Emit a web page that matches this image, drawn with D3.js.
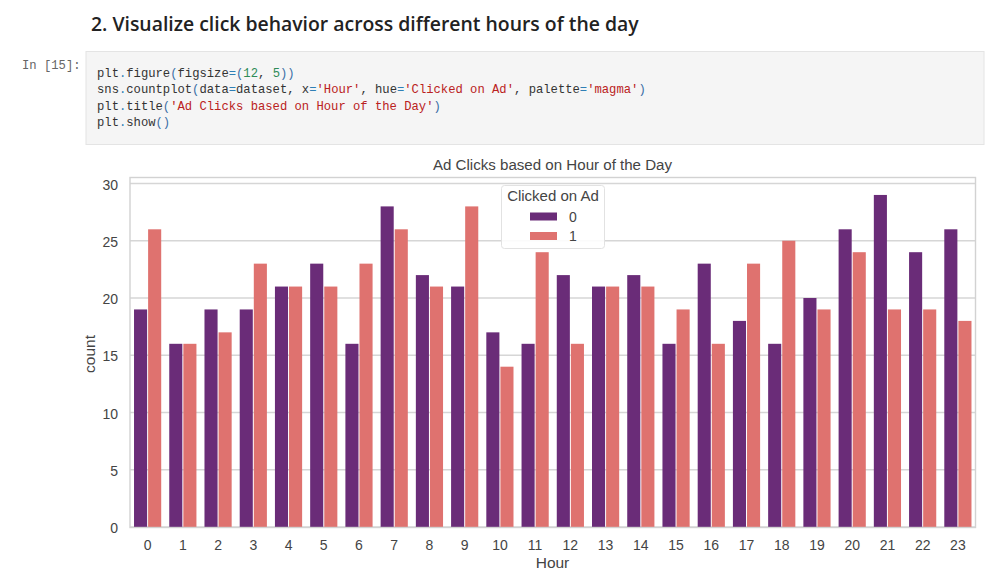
<!DOCTYPE html>
<html>
<head>
<meta charset="utf-8">
<script src="https://cdnjs.cloudflare.com/ajax/libs/d3/7.8.5/d3.min.js"></script>
<style>
    html, body { margin: 0; padding: 0; background: #fff; }
    svg { display: block; }
    .chart text { font-family: "Liberation Sans", Arial, sans-serif; fill: #444; }
    .code text { font-family: "Liberation Mono", monospace; font-size: 12.2px; }
</style>
</head>
<body>
<div id="chart"></div>
<script>
const hours = d3.range(0, 24).map(String);
const notClicked = [19, 16, 19, 19, 21, 23, 16, 28, 22, 21, 17, 16, 22, 21, 22, 16, 23, 18, 16, 20, 26, 29, 24, 26];
const clicked = [26, 16, 17, 23, 21, 21, 23, 26, 21, 28, 14, 24, 16, 21, 21, 19, 16, 23, 25, 19, 24, 19, 19, 18];
const hueLabels = ['0', '1'];
const yTicks = [0, 5, 10, 15, 20, 25, 30];
const hueColors = ['#6a2c78', '#df726f'];

const codeColors = { n: '#333', o: '#2f7fb5', s: '#ba2121', v: '#2e8b57', p: '#3a6ea5' };
const codeLines = [
    [['plt', 'n'], ['.', 'o'], ['figure', 'n'], ['(', 'p'], ['figsize', 'n'], ['=', 'o'], ['(', 'p'], ['12', 'v'], [', ', 'n'], ['5', 'v'], ['))', 'p']],
    [['sns', 'n'], ['.', 'o'], ['countplot', 'n'], ['(', 'p'], ['data', 'n'], ['=', 'o'], ['dataset, x', 'n'], ['=', 'o'], ["'Hour'", 's'], [', hue', 'n'], ['=', 'o'], ["'Clicked on Ad'", 's'], [', palette', 'n'], ['=', 'o'], ["'magma'", 's'], [')', 'p']],
    [['plt', 'n'], ['.', 'o'], ['title', 'n'], ['(', 'p'], ["'Ad Clicks based on Hour of the Day'", 's'], [')', 'p']],
    [['plt', 'n'], ['.', 'o'], ['show', 'n'], ['()', 'p']]
];

const svg = d3.select('#chart').append('svg')
    .attr('width', 1000)
    .attr('height', 586);

// notebook part above the chart
svg.append('text')
    .attr('x', 91)
    .attr('y', 31)
    .attr('font-family', '"Open Sans", sans-serif')
    .attr('font-size', 19.4)
    .attr('font-weight', 600)
    .attr('fill', '#222')
    .text('2. Visualize click behavior across different hours of the day');

svg.append('text')
    .attr('x', 22)
    .attr('y', 69)
    .attr('font-family', '"Liberation Mono", monospace')
    .attr('font-size', 12.2)
    .attr('fill', '#666')
    .text('In [15]:');

svg.append('rect')
    .attr('x', 86)
    .attr('y', 51.5)
    .attr('width', 898)
    .attr('height', 93)
    .attr('fill', '#f5f5f5')
    .attr('stroke', '#e4e4e4');

const code = svg.append('g').attr('class', 'code');
codeLines.forEach((line, i) => {
    const row = code.append('text')
        .attr('x', 97)
        .attr('y', 77 + i * 16.4)
        .attr('xml:space', 'preserve');
    line.forEach(part => {
        row.append('tspan')
            .attr('fill', codeColors[part[1]])
            .text(part[0]);
    });
});

// chart
const margin = { left: 130, right: 975.5, top: 177.5, bottom: 527.5 };

const x = d3.scaleBand()
    .domain(hours)
    .range([margin.left, margin.right])
    .paddingInner(0)
    .paddingOuter(0);

const hue = d3.scaleBand()
    .domain(hueLabels)
    .range([x.bandwidth() * 0.1, x.bandwidth() * 0.9]);

const y = d3.scaleLinear()
    .domain([0, 30])
    .range([527, 183.5]);

const chart = svg.append('g').attr('class', 'chart');

const yAxis = chart.append('g')
    .attr('transform', `translate(${margin.left},0)`)
    .call(d3.axisLeft(y).tickValues(yTicks).tickSize(0).tickPadding(12));
yAxis.select('.domain').remove();
yAxis.selectAll('text').attr('font-size', 14).attr('font-family', null).attr('dy', '0.4em');

chart.append('g')
    .selectAll('line')
    .data(yTicks)
    .join('line')
    .attr('x1', margin.left)
    .attr('x2', margin.right)
    .attr('y1', d => y(d))
    .attr('y2', d => y(d))
    .attr('stroke', '#d6d6d6')
    .attr('stroke-width', 1.4);

const groups = chart.append('g')
    .selectAll('g')
    .data(hours)
    .join('g')
    .attr('transform', d => `translate(${x(d)},0)`);

[notClicked, clicked].forEach((values, k) => {
    groups.append('rect')
        .attr('x', hue(hueLabels[k]) + 0.5)
        .attr('width', hue.bandwidth() - 1)
        .attr('y', (d, i) => y(values[i]))
        .attr('height', (d, i) => y(0) - y(values[i]))
        .attr('fill', hueColors[k]);
});

chart.append('rect')
    .attr('x', margin.left)
    .attr('y', margin.top)
    .attr('width', margin.right - margin.left)
    .attr('height', margin.bottom - margin.top)
    .attr('fill', 'none')
    .attr('stroke', '#d2d2d2')
    .attr('stroke-width', 1.4);

const xAxis = chart.append('g')
    .attr('transform', `translate(0,${margin.bottom})`)
    .call(d3.axisBottom(x).tickSize(0).tickPadding(13));
xAxis.select('.domain').remove();
xAxis.selectAll('text').attr('font-size', 14).attr('font-family', null);

chart.append('text')
    .attr('x', 552.5)
    .attr('y', 568)
    .attr('text-anchor', 'middle')
    .attr('font-size', 15.5)
    .text('Hour');

chart.append('text')
    .attr('transform', 'translate(95,354) rotate(-90)')
    .attr('text-anchor', 'middle')
    .attr('font-size', 15.5)
    .text('count');

chart.append('text')
    .attr('x', 552.5)
    .attr('y', 170)
    .attr('text-anchor', 'middle')
    .attr('font-size', 15.1)
    .text('Ad Clicks based on Hour of the Day');

// legend
const legend = chart.append('g');
legend.append('rect')
    .attr('x', 501.5)
    .attr('y', 185.5)
    .attr('width', 103)
    .attr('height', 63)
    .attr('rx', 3)
    .attr('fill', '#fff')
    .attr('fill-opacity', 0.9)
    .attr('stroke', '#e2e2e2');
legend.append('text')
    .attr('x', 553)
    .attr('y', 201)
    .attr('text-anchor', 'middle')
    .attr('font-size', 15)
    .text('Clicked on Ad');
hueLabels.forEach((label, i) => {
    legend.append('rect')
        .attr('x', 530)
        .attr('y', 212.5 + i * 19.5)
        .attr('width', 27)
        .attr('height', 8)
        .attr('fill', hueColors[i]);
    legend.append('text')
        .attr('x', 569)
        .attr('y', 221.5 + i * 19.5)
        .attr('font-size', 14)
        .text(label);
});
</script>
</body>
</html>
